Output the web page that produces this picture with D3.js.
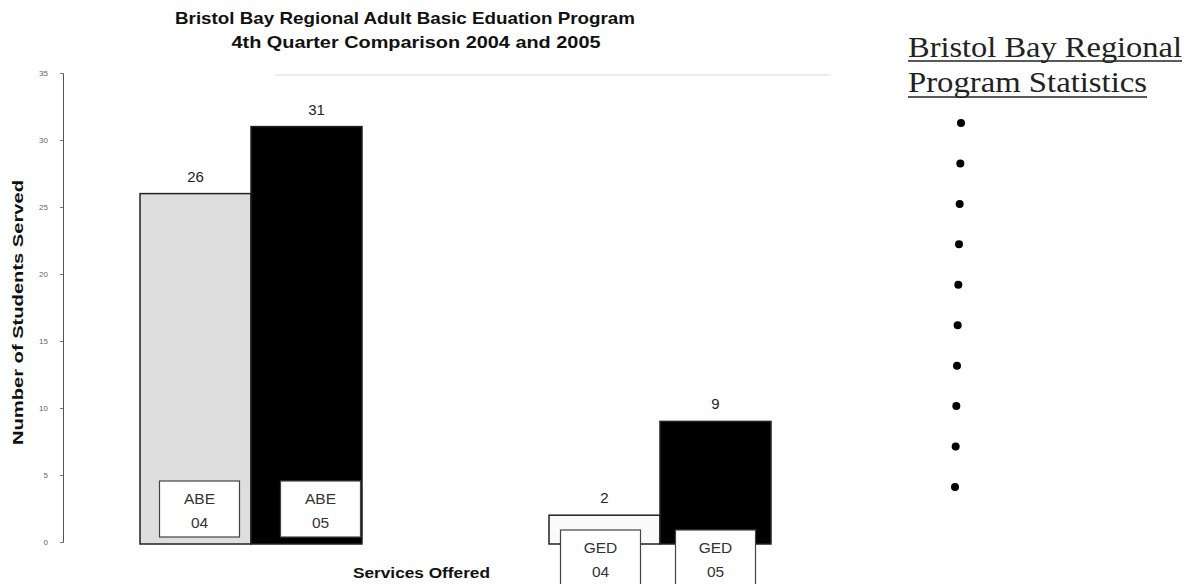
<!DOCTYPE html>
<html>
<head>
<meta charset="utf-8">
<script src="https://cdn.jsdelivr.net/npm/d3@7"></script>
<style>
  html, body { margin: 0; padding: 0; background: #fff; }
  svg { display: block; }
</style>
</head>
<body>
<svg id="chart" width="1189" height="584"></svg>
<script>
// ---- data ----
const groups = ["ABE", "GED"];
const years = ["04", "05"];
const valuesABE = [26, 31];
const valuesGED = [2, 9];
const yTicks = [0, 5, 10, 15, 20, 25, 30, 35];
const titleLines = ["Bristol Bay Regional Adult Basic Eduation Program", "4th Quarter Comparison 2004 and 2005"];
const yAxisLabel = "Number of Students Served";
const xAxisLabel = "Services Offered";
const sideTitle = ["Bristol Bay Regional", "Program Statistics"];
const bulletCount = 10;

const data = [];
groups.forEach((g, gi) => {
  const vals = gi === 0 ? valuesABE : valuesGED;
  years.forEach((yr, yi) => data.push({ group: g, year: yr, value: vals[yi] }));
});

const svg = d3.select("#chart");
const sans = "Liberation Sans, Arial, sans-serif";

// ---- scales ----
const y = d3.scaleLinear().domain([0, 35]).range([542, 73]);
const xGroup = d3.scalePoint().domain(groups).range([251, 660]);
const groupWidth = 222;
const xInner = d3.scaleBand().domain(years).range([-groupWidth / 2, groupWidth / 2]).padding(0);

// faint scan line under the title
svg.append("line")
  .attr("x1", 275).attr("x2", 830).attr("y1", 75).attr("y2", 75)
  .attr("stroke", "#e6e6e6").attr("stroke-width", 1.5);

// ---- y axis ----
const yAxis = d3.axisLeft(y).tickValues(yTicks).tickSize(3).tickPadding(12);
const gy = svg.append("g").attr("transform", "translate(63,0)").call(yAxis);
gy.select(".domain").attr("stroke", "#555").attr("stroke-width", 1);
gy.selectAll(".tick line").attr("stroke", "#777");
gy.selectAll(".tick text")
  .attr("font-family", sans)
  .attr("font-size", 8).attr("fill", "#666");

// ---- bars ----
const barX = d => xGroup(d.group) + xInner(d.year);
const barFill = d => d.year === "05" ? "#000" : (d.group === "ABE" ? "#dedede" : "#fafafa");
svg.append("g").selectAll("rect.bar").data(data).join("rect")
  .attr("class", "bar")
  .attr("x", barX)
  .attr("y", d => y(d.value))
  .attr("width", xInner.bandwidth())
  .attr("height", d => y(0) - y(d.value) + 2)
  .attr("fill", barFill)
  .attr("stroke", "#222")
  .attr("stroke-width", 1.5);

// value labels
svg.append("g").selectAll("text.val").data(data).join("text")
  .attr("class", "val")
  .attr("x", d => barX(d) + xInner.bandwidth() / 2 + (d.group === "ABE" && d.year === "05" ? 10 : 0))
  .attr("y", d => y(d.value) - 12)
  .attr("text-anchor", "middle")
  .attr("font-family", sans)
  .attr("font-size", 15)
  .attr("fill", "#222")
  .text(d => d.value);

// category label boxes
const boxW = 80, boxH = 56;
const boxTop = d => d.group === "ABE" ? y(0) - 61 : y(0) - 12;
const boxShift = d => d.group === "ABE" ? (d.year === "05" ? 14 : 4) : (d.year === "04" ? -4 : 0);
const boxG = svg.append("g").selectAll("g.box").data(data).join("g")
  .attr("class", "box")
  .attr("transform", d => `translate(${barX(d) + xInner.bandwidth() / 2 - boxW / 2 + boxShift(d)},${boxTop(d)})`);
boxG.append("rect")
  .attr("width", boxW).attr("height", boxH)
  .attr("fill", "#fff").attr("stroke", "#444").attr("stroke-width", 1.2);
boxG.append("text")
  .attr("x", boxW / 2).attr("y", 23)
  .attr("text-anchor", "middle")
  .attr("font-family", sans)
  .attr("font-size", 15.5).attr("fill", "#333")
  .text(d => d.group);
boxG.append("text")
  .attr("x", boxW / 2).attr("y", 47)
  .attr("text-anchor", "middle")
  .attr("font-family", sans)
  .attr("font-size", 15.5).attr("fill", "#333")
  .text(d => d.year);

// ---- titles ----
const titleW = [460, 369];
const titleX = [405, 416];
svg.append("g").selectAll("text.title").data(titleLines).join("text")
  .attr("class", "title")
  .attr("x", (d, i) => titleX[i] - titleW[i] / 2)
  .attr("y", (d, i) => 24 + i * 24)
  .attr("font-family", sans)
  .attr("font-weight", "bold")
  .attr("font-size", 17)
  .attr("fill", "#111")
  .attr("textLength", (d, i) => titleW[i])
  .attr("lengthAdjust", "spacingAndGlyphs")
  .text(d => d);

svg.append("text")
  .attr("transform", "translate(23,445) rotate(-90)")
  .attr("font-family", sans)
  .attr("font-weight", "bold")
  .attr("font-size", 15.5)
  .attr("fill", "#111")
  .attr("textLength", 265)
  .attr("lengthAdjust", "spacingAndGlyphs")
  .text(yAxisLabel);

svg.append("text")
  .attr("x", 353).attr("y", 578)
  .attr("font-family", sans)
  .attr("font-weight", "bold")
  .attr("font-size", 14)
  .attr("fill", "#111")
  .attr("textLength", 137)
  .attr("lengthAdjust", "spacingAndGlyphs")
  .text(xAxisLabel);

// ---- side panel ----
const sideW = [274, 239];
const side = svg.append("g");
side.selectAll("text.side").data(sideTitle).join("text")
  .attr("class", "side")
  .attr("x", 908)
  .attr("y", (d, i) => 57 + i * 35)
  .attr("font-family", "Liberation Serif, Times New Roman, serif")
  .attr("font-size", 30)
  .attr("fill", "#222")
  .attr("textLength", (d, i) => sideW[i])
  .attr("lengthAdjust", "spacingAndGlyphs")
  .text(d => d);
side.selectAll("line.ul").data(sideTitle).join("line")
  .attr("class", "ul")
  .attr("x1", 908)
  .attr("x2", (d, i) => 908 + sideW[i])
  .attr("y1", (d, i) => 61 + i * 36)
  .attr("y2", (d, i) => 61 + i * 36)
  .attr("stroke", "#222").attr("stroke-width", 1.5);

const bulletY = d3.scaleLinear().domain([0, bulletCount - 1]).range([123, 487]);
const bulletX = d3.scaleLinear().domain([0, bulletCount - 1]).range([961, 955]);
side.selectAll("circle").data(d3.range(bulletCount)).join("circle")
  .attr("cx", d => bulletX(d))
  .attr("cy", d => bulletY(d))
  .attr("r", 4)
  .attr("fill", "#000");
</script>
</body>
</html>
